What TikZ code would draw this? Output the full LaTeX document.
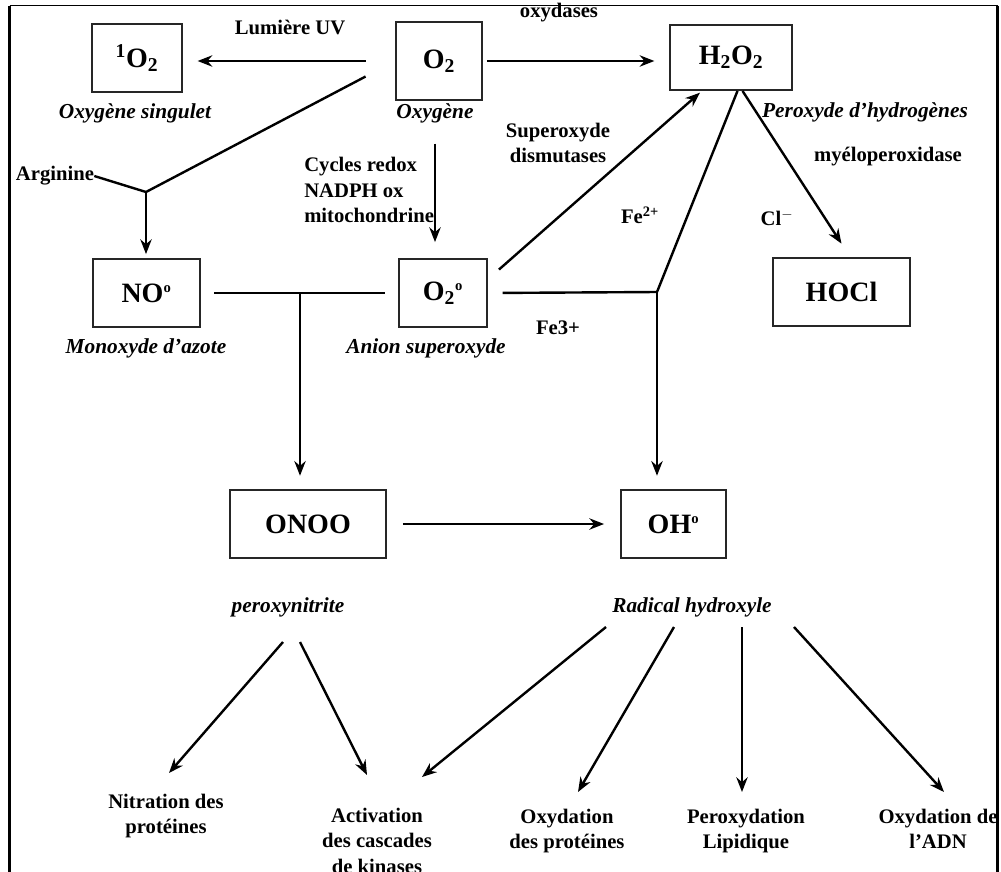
\documentclass[tikz,border=0pt]{standalone}
\usepackage{fontspec}
\setmainfont{Liberation Serif}
\usetikzlibrary{arrows.meta,positioning}
\newcommand{\rad}{\textsuperscript{\fontsize{11}{11}\selectfont o}}

\begin{document}
\begin{tikzpicture}[
  x=0.75pt, y=-0.75pt,
  >={Stealth[length=11pt,width=8.5pt]},
  species/.style={rectangle, draw=black!85, line width=1.4pt, inner sep=0pt, font=\fontsize{21}{25}\selectfont\bfseries},
  lbl/.style={inner sep=0pt, align=center, font=\fontsize{15.5}{19}\selectfont\bfseries},
  spname/.style={inner sep=0pt, font=\fontsize{16}{19}\selectfont\bfseries\itshape},
  flow/.style={->, line width=1.8pt},
  link/.style={line width=1.8pt}
]
  \useasboundingbox (0,0) rectangle (1001,872);

  % frame
  \draw[line width=1.3pt] (9.5,5.5) -- (997.5,5.5);
  \draw[line width=2.2pt] (9.5,872) -- (9.5,5.5);
  \draw[line width=2.2pt] (997.5,5.5) -- (997.5,872);

  % species
  \node[species, minimum width=67.5pt, minimum height=51pt] (sO2) at (137,58) {\textsuperscript{1}O\textsubscript{2}};
  \node[species, minimum width=64.5pt, minimum height=58.5pt] (o2) at (439,61) {O\textsubscript{2}};
  \node[species, minimum width=91.5pt, minimum height=48.75pt] (h2o2) at (731,57.5) {H\textsubscript{2}O\textsubscript{2}};
  \node[species, minimum width=80.25pt, minimum height=51pt] (no) at (146.5,293) {NO\rad};
  \node[species, minimum width=66pt, minimum height=51pt] (o2r) at (443,293) {O\textsubscript{2}\rad};
  \node[species, minimum width=102.75pt, minimum height=51pt] (hocl) at (841.5,292) {HOCl};
  \node[species, minimum width=117pt, minimum height=51pt] (onoo) at (308,524) {ONOO};
  \node[species, minimum width=78.75pt, minimum height=51pt] (oh) at (673.5,524) {OH\rad};

  % names and labels
  \node[spname] (lblSing) at (135,113) {Oxygène singulet};
  \node[spname] (lblOxy) at (435,113) {Oxygène};
  \node[spname] (lblPer) at (865,112) {Peroxyde d'hydrogènes};
  \node[spname] (lblMono) at (146,348) {Monoxyde d'azote};
  \node[spname] (lblAnion) at (426,348) {Anion superoxyde};
  \node[spname, anchor=south] (lblPN) at (288,617) {peroxynitrite};
  \node[spname, anchor=south] (lblRH) at (692,617) {Radical hydroxyle};

  \node[lbl] (lblUV) at (290,27) {Lumière UV};
  \node[lbl] (lblOxd) at (559,13) {oxydases};
  \node[lbl] (lblMyelo) at (888,157) {myéloperoxidase};
  \node[lbl] (lblSOD) at (558,143) {Superoxyde\\dismutases};
  \node[lbl, align=left, anchor=west] (lblCyc) at (304,190) {Cycles redox\\NADPH ox\\mitochondrine};
  \node[lbl] (arg) at (55,176) {Arginine};
  \node[lbl] (lblFe2) at (640,215) {Fe\textsuperscript{2+}};
  \node[lbl] (lblCl) at (777,218) {Cl$^{-}$};
  \node[lbl] (lblFe3) at (558,328) {Fe3+};

  % effects
  \node[lbl, anchor=north] (nit) at (166,794) {Nitration des\\protéines};
  \node[lbl, anchor=north] (act) at (377,808) {Activation\\des cascades\\de kinases};
  \node[lbl, anchor=north] (oxp) at (567,809) {Oxydation\\des protéines};
  \node[lbl, anchor=north] (perox) at (746,809) {Peroxydation\\Lipidique};
  \node[lbl, anchor=north] (adn) at (938,809) {Oxydation de\\l'ADN};

  \coordinate (jArg) at (146,192);
  \coordinate (jFe) at (657,292);
  \coordinate (jNO) at (300,293);

  % reactions
  \draw[flow, shorten <=22pt, shorten >=11pt] (o2.west) -- (o2.west -| sO2.east);
  \draw[flow, shorten <=3pt, shorten >=11pt] (o2.east) -- (o2.east -| h2o2.west);
  \draw[link, shorten <=25pt] (o2.west) -- (jArg);
  \draw[link] (arg.east) -- (jArg);
  \draw[flow, shorten >=3pt] (jArg) -- (jArg |- no.north);
  \draw[flow, shorten <=32pt, shorten >=12pt] ([xshift=-3pt]o2.south) -- ([xshift=-3pt]o2.south |- o2r.north);
  \draw[flow, shorten <=11pt, shorten >=2pt] (o2r.17) -- (h2o2.229);
  \draw[link, shorten <=11pt] (o2r.east) -- (jFe);
  \draw[link] (h2o2.281) -- (jFe);
  \draw[flow, shorten >=10pt] (jFe) -- (jFe |- oh.north);
  \draw[flow, shorten >=12pt] (h2o2.289) -- (hocl.76);
  \draw[link, shorten <=10pt, shorten >=10pt] (no.east) -- (o2r.west);
  \draw[flow, shorten >=10pt] (jNO) -- (jNO |- onoo.north);
  \draw[flow, shorten <=12pt, shorten >=12pt] (onoo.east) -- (oh.west);

  % consequences
  \draw[flow] ([shift={(-5,25)}]lblPN.south) -- ([shift={(3,-21)}]nit.north);
  \draw[flow] ([shift={(12,25)}]lblPN.south) -- ([shift={(-10,-33)}]act.north);
  \draw[flow] ([shift={(-86,10)}]lblRH.south) -- ([shift={(45,-31)}]act.north);
  \draw[flow] ([shift={(-18,10)}]lblRH.south) -- ([shift={(11,-17)}]oxp.north);
  \draw[flow] ([shift={(50,10)}]lblRH.south) -- ([shift={(-4,-17)}]perox.north);
  \draw[flow] ([shift={(102,10)}]lblRH.south) -- ([shift={(6,-17)}]adn.north);
\end{tikzpicture}
\end{document}
